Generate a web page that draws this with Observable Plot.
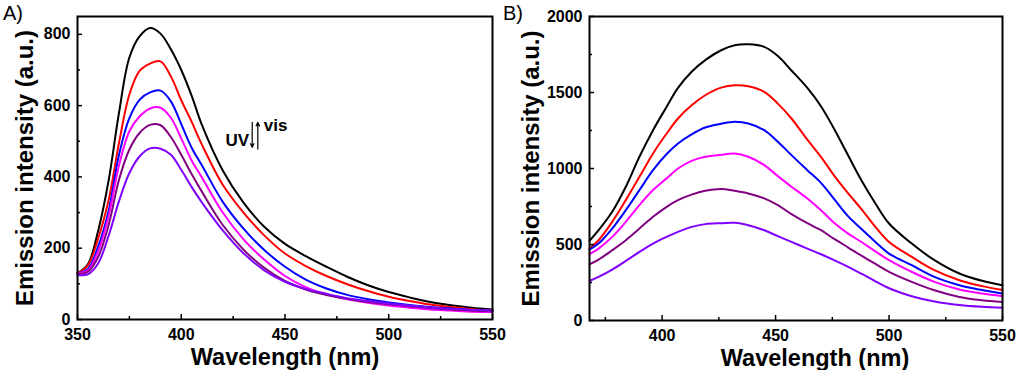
<!DOCTYPE html>
<html><head><meta charset="utf-8">
<script src="https://cdn.jsdelivr.net/npm/d3@7"></script>
<script src="https://cdn.jsdelivr.net/npm/@observablehq/plot@0.6"></script>
<style>
body{margin:0;background:#fff;}
#wrap{position:relative;width:1024px;height:370px;display:flex;font-family:"Liberation Sans",Arial,sans-serif;color:#000;}
#wrap svg{display:block;}
.plabel{position:absolute;top:3px;font-size:20px;line-height:20px;}
</style></head><body>
<div id="wrap"><div id="pa"></div><div id="pb"></div>
<span class="plabel" style="left:3px">A)</span><span class="plabel" style="left:503px">B)</span></div>
<script>
// ---- shared ----
const seriesNames = ["curve 1","curve 2","curve 3","curve 4","curve 5","curve 6"];
const seriesColors = ["#000000","#ff0000","#0000ff","#ff00ff","#800080","#8000ff"];
const yTitle = "Emission intensity (a.u.)";
const xTitle = "Wavelength (nm)";

// ---- panel A ----
const wavelengthA = [350,355,360,365,370,375,380,385,390,395,400,405,410,420,430,440,450,460,470,480,490,500,510,520,530,540,550];
const blackA   = [130,155,250,390,580,735,795,818,802,758,700,628,545,418,328,260,212,178,148,120,96,77,62,49,40,33,28];
const redA     = [130,152,228,335,495,631,698,718,724,682,615,555,490,378,300,236,185,150,122,99,80,64,52,42,35,29,25];
const blueA    = [130,142,205,305,462,565,617,637,642,612,548,482,432,330,255,195,148,112,87,69,57,48,41,35,31,27,25];
const magentaA = [130,138,192,290,432,528,570,592,594,566,508,446,398,300,225,168,122,91,71,57,47,39,33,28,25,22,21];
const purpleA  = [128,134,176,265,392,477,524,546,545,512,462,408,358,265,196,145,108,84,69,58,49,43,37,32,28,25,23];
const violetA  = [125,127,158,235,332,411,458,480,479,462,420,372,328,250,186,138,106,86,72,60,52,45,39,34,30,27,25];
const xTicksA = [350,400,450,500,550];
const xMinorA = [375,425,475,525];
const yTicksA = [0,200,400,600,800];
const yMinorA = [100,300,500,700];
const annText = ["UV","vis"];
const annTextX = [421.3,439.8];
const annTextY = [502,543];
const annArrowX = [434.2,436.9];
const annArrowFrom = [553,478];
const annArrowTo = [483,553];

// ---- panel B ----
const wavelengthB = [368,372,378,384,390,396,402,407,413,419,426,432,438,445,451,457,464,470,476,482,488,494,500,510,520,531,541,550];
const blackB   = [524,594,715,880,1077,1252,1406,1530,1636,1713,1778,1811,1817,1800,1740,1645,1530,1410,1255,1085,918,770,638,506,397,309,261,232];
const redB     = [473,528,649,792,945,1099,1230,1329,1416,1482,1532,1548,1541,1504,1427,1329,1190,1077,950,836,730,616,517,419,331,265,226,200];
const blueB    = [467,506,605,726,858,989,1095,1165,1225,1270,1294,1307,1296,1252,1176,1088,989,905,795,685,600,517,440,364,287,232,200,177];
const magentaB = [436,473,550,649,759,858,935,1000,1050,1077,1090,1099,1077,1022,950,880,803,726,640,572,515,455,397,320,254,204,177,160];
const purpleB  = [370,401,462,528,605,682,748,792,828,853,865,853,836,803,759,700,640,594,535,480,425,372,320,254,199,155,133,122];
const violetB  = [260,287,335,392,451,506,550,583,616,634,640,643,627,594,555,517,473,436,396,353,306,258,212,160,125,102,90,84];
const xTicksB = [400,450,500,550];
const xMinorB = [375,425,475,525];
const yTicksB = [0,500,1000,1500,2000];
const yMinorB = [250,750,1250,1750];

function toRows(wl, seriesList){
  const rows = [];
  seriesList.forEach((vals, k) => vals.forEach((v, i) => rows.push({wl: wl[i], v, s: seriesNames[k]})));
  return rows;
}

function panel({rows, xDomain, yDomain, xTicks, xMinor, yTicks, yMinor, margins, yTitleDx, xTitleDx, extra = []}){
  return Plot.plot({
    width: 512, height: 370,
    marginLeft: margins[0], marginRight: margins[1], marginTop: margins[2], marginBottom: margins[3],
    style: {fontFamily: '"Liberation Sans", Arial, sans-serif', color: "#000", background: "#fff", overflow: "visible"},
    x: {domain: xDomain},
    y: {domain: yDomain},
    color: {type: "ordinal", domain: seriesNames, range: seriesColors},
    marks: [
      Plot.line(rows, {x: "wl", y: "v", z: "s", stroke: "s", strokeWidth: 2, curve: "catmull-rom"}),
      Plot.frame({strokeWidth: 2}),
      Plot.axisX(xTicks, {anchor: "bottom", tickSize: -5, tickPadding: 14, fontSize: 16, fontWeight: "bold", strokeWidth: 1.5, label: null, tickFormat: d => String(d)}),
      Plot.axisX(xMinor, {anchor: "bottom", tickSize: -3, strokeWidth: 1.5, text: null, label: null}),
      Plot.axisY(yTicks, {anchor: "left", tickSize: -5, tickPadding: 12, fontSize: 16, fontWeight: "bold", strokeWidth: 1.5, label: null, tickFormat: d => String(d)}),
      Plot.axisY(yMinor, {anchor: "left", tickSize: -3, strokeWidth: 1.5, text: null, label: null}),
      Plot.text([yTitle], {text: d => d, frameAnchor: "left", textAnchor: "middle", lineAnchor: "middle", rotate: -90, dx: yTitleDx, fontSize: 24, fontWeight: "bold"}),
      Plot.text([xTitle], {text: d => d, frameAnchor: "bottom", textAnchor: "middle", lineAnchor: "top", dy: 29, dx: xTitleDx, fontSize: 23.5, fontWeight: "bold"}),
      ...extra
    ]
  });
}

const rowsA = toRows(wavelengthA, [blackA, redA, blueA, magentaA, purpleA, violetA]);
const rowsB = toRows(wavelengthB, [blackB, redB, blueB, magentaB, purpleB, violetB]);

const annRows = annText.map((t, i) => ({t, x: annTextX[i], y: annTextY[i]}));
const arrowRows = annArrowX.map((x, i) => ({x, y1: annArrowFrom[i], y2: annArrowTo[i]}));

const chartA = panel({
  rows: rowsA, xDomain: [350, 550], yDomain: [0, 850],
  xTicks: xTicksA, xMinor: xMinorA, yTicks: yTicksA, yMinor: yMinorA,
  margins: [77, 20, 16, 51], yTitleDx: -52, xTitleDx: 0,
  extra: [
    Plot.text(annRows, {x: "x", y: "y", text: "t", textAnchor: "start", fontSize: 17, fontWeight: "bold"}),
    Plot.arrow(arrowRows, {x1: "x", x2: "x", y1: "y1", y2: "y2", stroke: "#000", strokeWidth: 1.2, headLength: 5, headAngle: 50})
  ]
});
const chartB = panel({
  rows: rowsB, xDomain: [368, 550], yDomain: [0, 2000],
  xTicks: xTicksB, xMinor: xMinorB, yTicks: yTicksB, yMinor: yMinorB,
  margins: [77, 22, 16, 50], yTitleDx: -58, xTitleDx: 19
});
document.getElementById("pa").append(chartA);
document.getElementById("pb").append(chartB);
</script>
</body></html>
